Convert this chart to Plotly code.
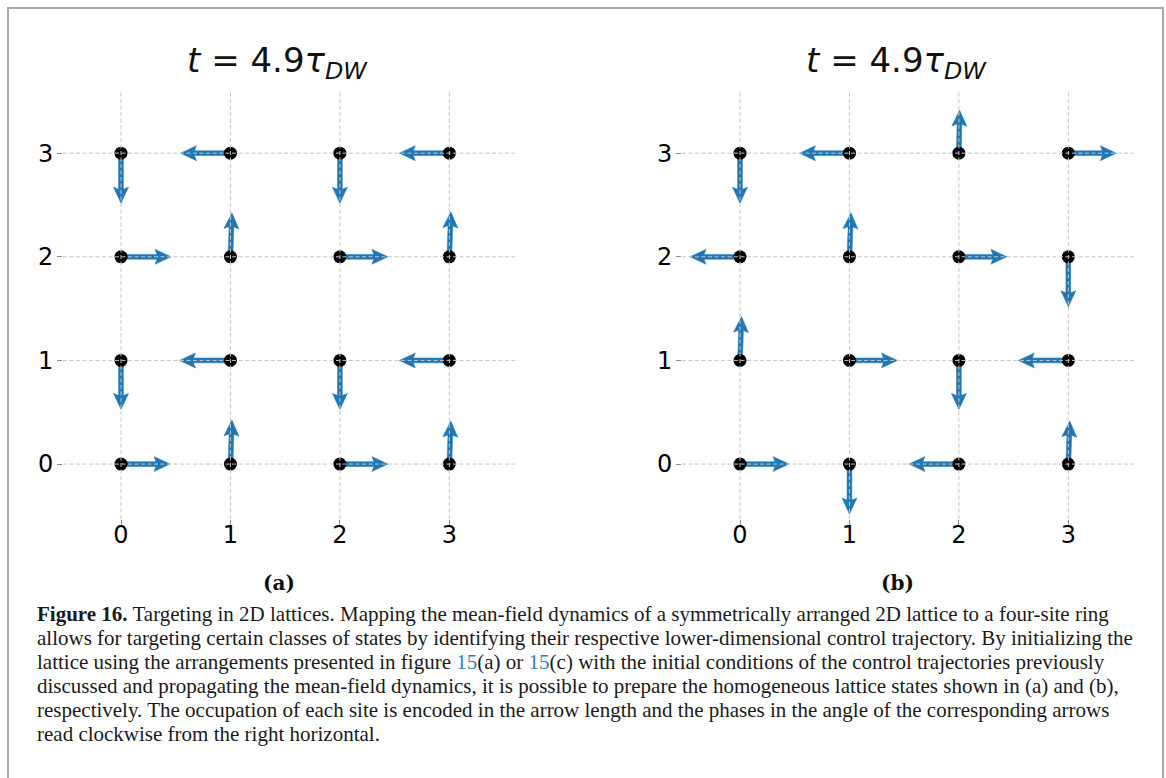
import numpy as np
import plotly.graph_objects as go

W, H = 1166, 778

# ---------------- data ----------------
site_x = [0, 1, 2, 3]
site_y = [0, 1, 2, 3]
tick_vals = [0, 1, 2, 3]
tick_text = ["0", "1", "2", "3"]

# occupation (relative arrow length), rows are y = 0..3, columns x = 0..3
occ_a = [
    [0.98, 0.88, 0.96, 0.86],
    [0.98, 1.02, 0.98, 1.00],
    [1.00, 0.88, 0.96, 0.90],
    [1.00, 1.00, 1.00, 1.00],
]
# phase (degrees, clockwise from the right horizontal)
phase_a = [
    [0, 272, 0, 272],
    [90, 180, 90, 180],
    [0, 272, 0, 272],
    [90, 180, 90, 180],
]
occ_b = [
    [0.98, 1.00, 1.00, 0.86],
    [0.88, 0.96, 0.98, 1.00],
    [1.00, 0.88, 0.96, 1.00],
    [1.00, 1.00, 0.86, 0.96],
]
phase_b = [
    [0, 90, 180, 272],
    [272, 0, 90, 180],
    [180, 272, 0, 90],
    [90, 180, 271, 0],
]

title_text = "<i>t</i> = 4.9<i>τ</i><sub><i>DW</i></sub>"
panel_labels = ["(a)", "(b)"]

caption_lines = [
    "<b>Figure 16.</b> Targeting in 2D lattices. Mapping the mean-field dynamics of a symmetrically arranged 2D lattice to a four-site ring",
    "allows for targeting certain classes of states by identifying their respective lower-dimensional control trajectory. By initializing the",
    "lattice using the arrangements presented in figure <span style='color:#2b7fc0'>15</span>(a) or <span style='color:#2b7fc0'>15</span>(c) with the initial conditions of the control trajectories previously",
    "discussed and propagating the mean-field dynamics, it is possible to prepare the homogeneous lattice states shown in (a) and (b),",
    "respectively. The occupation of each site is encoded in the arrow length and the phases in the angle of the corresponding arrows",
    "read clockwise from the right horizontal.",
]

# ---------------- layout constants ----------------
XR = [-0.53, 3.6]
YR = [-0.53, 3.59]
x_doms = [[63 / W, 515 / W], [682 / W, 1134 / W]]
y_dom = [1 - 519 / H, 1 - 92 / H]

ARROW_PX = 50.0      # pixel length for occupation 1
SHAFT_W = 4.8
HEAD_W = 15.0
HEAD_L = 16.0
HEAD_AX = 14.0
ARROW_COLOR = "#1f77b4"
GRID_COLOR = "#c4c4c4"

fig = go.Figure()


def px_per_unit(dom, rng, size):
    return (dom[1] - dom[0]) * size / (rng[1] - rng[0])


def arrow_poly(x0, y0, occ, phase_deg, sx, sy):
    L = occ * ARROW_PX
    th = np.deg2rad(phase_deg)
    dx, dy = np.cos(th), np.sin(th)   # screen direction (y down)
    nx, ny = -dy, dx
    local = [
        (0, -SHAFT_W / 2),
        (L - HEAD_AX, -SHAFT_W / 2),
        (L - HEAD_L, -HEAD_W / 2),
        (L, 0),
        (L - HEAD_L, HEAD_W / 2),
        (L - HEAD_AX, SHAFT_W / 2),
        (0, SHAFT_W / 2),
        (0, -SHAFT_W / 2),
    ]
    xs, ys = [], []
    for a, b in local:
        px = a * dx + b * nx
        py = a * dy + b * ny
        xs.append(x0 + px / sx)
        ys.append(y0 - py / sy)
    return xs, ys


panels = [(occ_a, phase_a), (occ_b, phase_b)]
for k, (occ, phase) in enumerate(panels):
    xa = "x" if k == 0 else "x2"
    ya = "y" if k == 0 else "y2"
    sx = px_per_unit(x_doms[k], XR, W)
    sy = px_per_unit(y_dom, YR, H)
    for j, yy in enumerate(site_y):
        for i, xx in enumerate(site_x):
            xs, ys = arrow_poly(xx, yy, occ[j][i], phase[j][i], sx, sy)
            fig.add_trace(go.Scatter(
                x=xs, y=ys, mode="lines", fill="toself",
                fillcolor=ARROW_COLOR, line=dict(color=ARROW_COLOR, width=0.5),
                hoverinfo="skip", showlegend=False, xaxis=xa, yaxis=ya))
    gx = [xx for yy in site_y for xx in site_x]
    gy = [yy for yy in site_y for xx in site_x]
    fig.add_trace(go.Scatter(
        x=gx, y=gy, mode="markers",
        marker=dict(color="black", size=13, line=dict(width=0)),
        hoverinfo="skip", showlegend=False, xaxis=xa, yaxis=ya))

axis_common = dict(
    showgrid=False, zeroline=False, showline=False,
    ticks="outside", ticklen=5, tickwidth=1, tickcolor="#8a8a8a",
    tickvals=tick_vals, ticktext=tick_text,
    tickfont=dict(family="DejaVu Sans", size=24, color="#000000"),
    fixedrange=True,
)

shapes = []
for k in range(2):
    xref = "x" if k == 0 else "x2"
    yref = "y" if k == 0 else "y2"
    for v in tick_vals:
        shapes.append(dict(type="line", xref=xref, yref=yref + " domain",
                           x0=v, x1=v, y0=0, y1=1, layer="above",
                           line=dict(color=GRID_COLOR, width=1, dash="4px,2.5px")))
        shapes.append(dict(type="line", xref=xref + " domain", yref=yref,
                           x0=0, x1=1, y0=v, y1=v, layer="above",
                           line=dict(color=GRID_COLOR, width=1, dash="4px,2.5px")))

# figure frame
shapes.append(dict(type="rect", xref="paper", yref="paper",
                   x0=8 / W, x1=1163 / W, y0=-0.05, y1=1 - 8 / H,
                   line=dict(color="#a8a8a8", width=2), layer="above"))

annotations = []
title_cx = [277, 896]
label_cx = [279, 897]
for k in range(2):
    annotations.append(dict(
        x=title_cx[k] / W, y=1 - 62 / H, xref="paper", yref="paper",
        text=title_text, showarrow=False, xanchor="center", yanchor="middle",
        font=dict(family="DejaVu Sans", size=34, color="#111111")))
    annotations.append(dict(
        x=label_cx[k] / W, y=1 - 583 / H, xref="paper", yref="paper",
        text="<b>" + panel_labels[k] + "</b>", showarrow=False,
        xanchor="center", yanchor="middle",
        font=dict(family="DejaVu Serif", size=20, color="#111111")))

base0 = 621.0
lh = 24.0
for n, line in enumerate(caption_lines):
    baseline = base0 + n * lh
    annotations.append(dict(
        x=35 / W, y=1 - (baseline - 7) / H, xref="paper", yref="paper",
        text=line, showarrow=False, xanchor="left", yanchor="middle",
        font=dict(family="Liberation Serif", size=21, color="#1a1a1a")))

fig.update_layout(
    width=W, height=H, margin=dict(l=0, r=0, t=0, b=0),
    paper_bgcolor="white", plot_bgcolor="white",
    xaxis=dict(domain=x_doms[0], range=XR, anchor="y", ticklabelstandoff=-11, **axis_common),
    yaxis=dict(domain=y_dom, range=YR, anchor="x", ticklabelstandoff=-1, **axis_common),
    xaxis2=dict(domain=x_doms[1], range=XR, anchor="y2", ticklabelstandoff=-11, **axis_common),
    yaxis2=dict(domain=y_dom, range=YR, anchor="x2", ticklabelstandoff=-1, **axis_common),
    shapes=shapes, annotations=annotations, showlegend=False,
)

fig.write_html("out.html")
